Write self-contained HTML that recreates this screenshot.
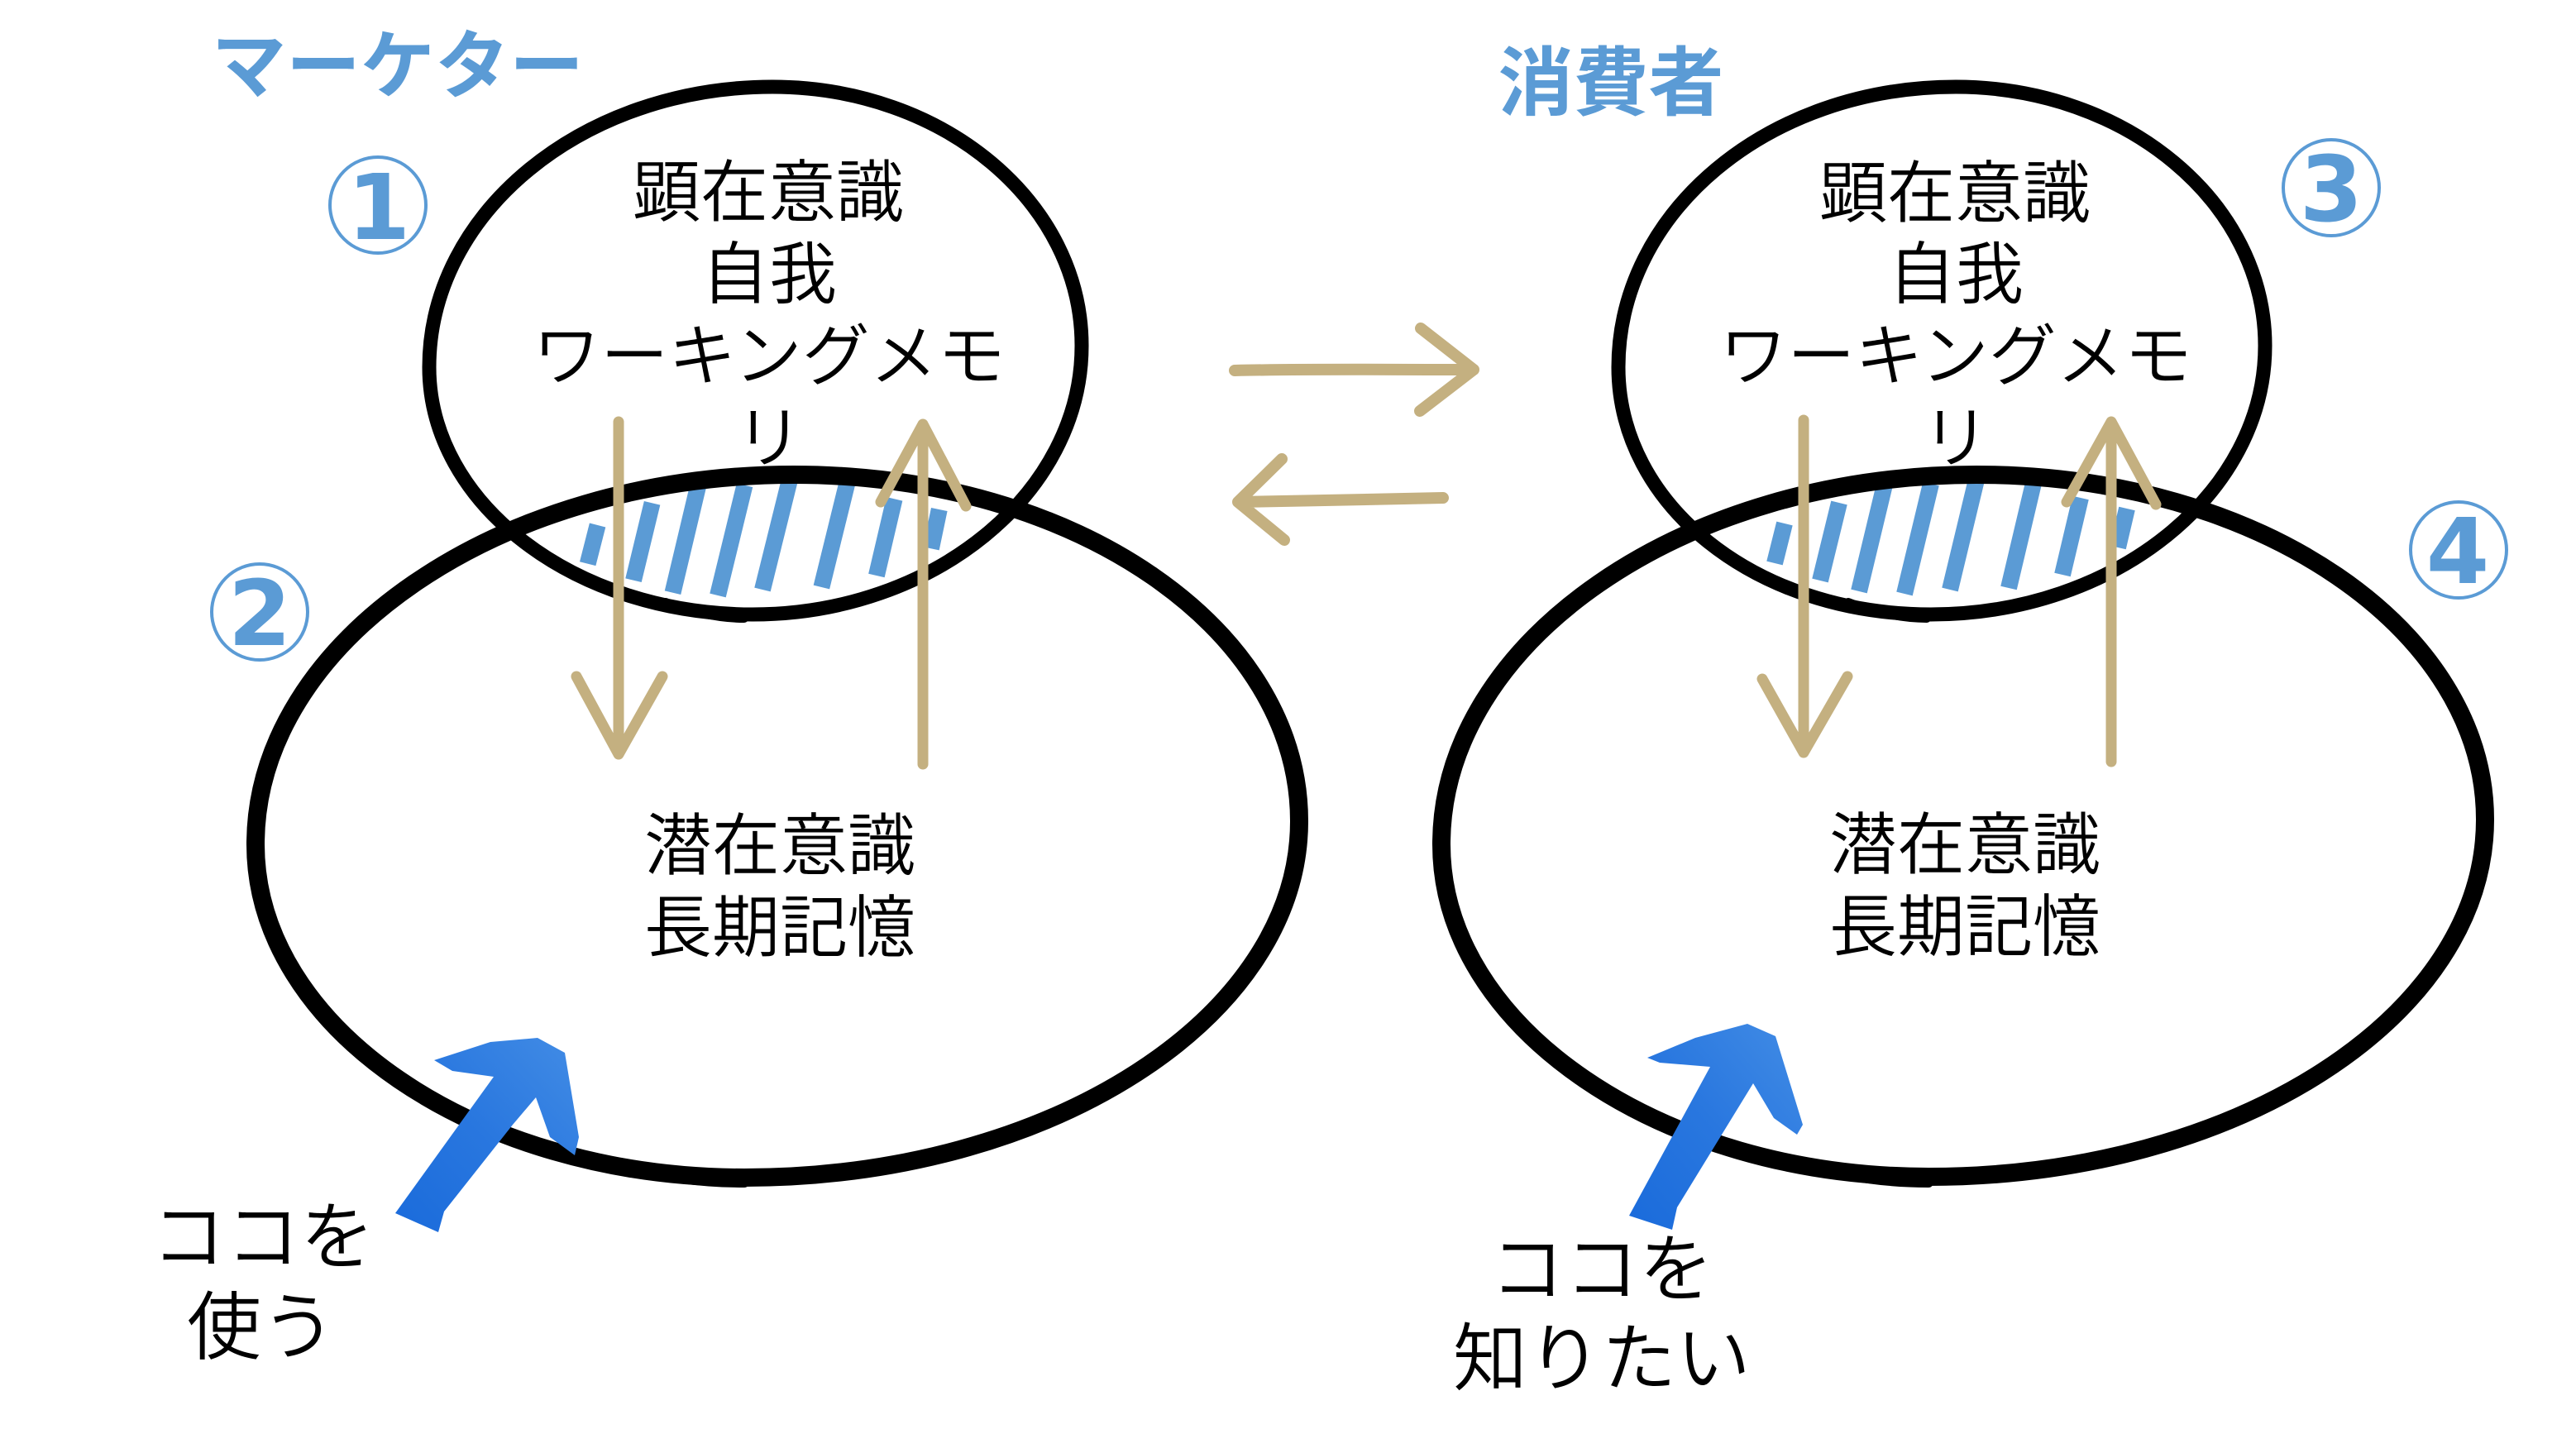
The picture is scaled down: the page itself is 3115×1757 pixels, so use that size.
<!DOCTYPE html>
<html>
<head>
<meta charset="utf-8">
<style>
  html, body { margin: 0; padding: 0; background: #ffffff; }
  body { width: 3115px; height: 1757px; overflow: hidden; }
  svg { display: block; }
  .body { font-family: "Liberation Sans", "Noto Sans CJK JP DemiLight", "Noto Sans CJK JP Light", "Noto Sans CJK JP", sans-serif; font-weight: 350; fill: #000; }
  .title { font-family: "Liberation Sans", "Noto Sans CJK JP", sans-serif; font-weight: 700; fill: #5b9bd5; }
  .num { font-family: "DejaVu Sans", "Liberation Sans", sans-serif; font-weight: 700; fill: #5b9bd5; }
</style>
</head>
<body>
<svg width="3115" height="1757" viewBox="0 0 3115 1757" xmlns="http://www.w3.org/2000/svg">
  <defs>
    <linearGradient id="bg1" x1="0" y1="1" x2="1" y2="0">
      <stop offset="0" stop-color="#1a6bdb"/>
      <stop offset="0.5" stop-color="#2977df"/>
      <stop offset="1" stop-color="#428ce5"/>
    </linearGradient>
  </defs>
  <rect x="0" y="0" width="3115" height="1757" fill="#ffffff"/>

  <!-- ===== Titles ===== -->
  <text class="title" x="481" y="111" font-size="90" text-anchor="middle">マーケター</text>
  <text class="title" x="1948" y="132" font-size="91" text-anchor="middle">消費者</text>

  <!-- ===== Circled numbers ===== -->
  <g fill="none" stroke="#5b9bd5" stroke-width="4">
    <circle cx="457" cy="248" r="58"/>
    <circle cx="314" cy="740" r="58"/>
    <circle cx="2819" cy="227" r="58"/>
    <circle cx="2973" cy="665" r="58"/>
  </g>
  <text class="num" x="458" y="289" font-size="110" text-anchor="middle">1</text>
  <text class="num" x="314" y="780" font-size="110" text-anchor="middle">2</text>
  <text class="num" x="2819" y="267" font-size="110" text-anchor="middle">3</text>
  <text class="num" x="2972" y="705" font-size="110" text-anchor="middle">4</text>

  <!-- ===== Blue striped lens (left) ===== -->
  <g stroke="#5b9bd5" stroke-width="20" stroke-linecap="butt">
    <line x1="722.6" y1="635" x2="710.7" y2="681.7"/>
    <line x1="788.6" y1="608.3" x2="766" y2="701.7"/>
    <line x1="844.4" y1="586.7" x2="813.5" y2="716.7"/>
    <line x1="900.5" y1="586.7" x2="868" y2="720"/>
    <line x1="955" y1="580" x2="922" y2="713"/>
    <line x1="1025" y1="581.7" x2="993.4" y2="710"/>
    <line x1="1081.6" y1="603.3" x2="1059.9" y2="696"/>
    <line x1="1135.8" y1="616" x2="1125.9" y2="663.3"/>
  </g>
  <!-- ===== Blue striped lens (right) ===== -->
  <g stroke="#5b9bd5" stroke-width="20" stroke-linecap="butt">
    <line x1="2158" y1="633" x2="2146" y2="681"/>
    <line x1="2224" y1="608" x2="2201" y2="702"/>
    <line x1="2279" y1="586" x2="2248" y2="715"/>
    <line x1="2335" y1="585" x2="2303" y2="718"/>
    <line x1="2390" y1="580" x2="2358" y2="713"/>
    <line x1="2460" y1="580" x2="2429" y2="711"/>
    <line x1="2516" y1="602" x2="2494" y2="695"/>
    <line x1="2572" y1="615" x2="2561" y2="662"/>
  </g>

  <!-- ===== Ellipses (left) ===== -->
  <g fill="none" stroke="#000" stroke-linejoin="round">
    <path stroke-width="17" d="M934,105 C1141,105 1308,245 1308,418 C1308,597 1128,743 910,743 C695,743 519,609 519,444 C519,257 705,105 934,105 Z"/>
    <path stroke-width="22" d="M960,574 C1303,574 1571,762 1571,993 C1571,1230 1270,1424 900,1424 C574,1424 309,1242 309,1021 C309,776 603,574 960,574 Z"/>
  </g>
  <path d="M805,728 C840,742 870,748 900,748" fill="none" stroke="#000" stroke-width="10" stroke-linecap="round"/>
  <path d="M760,1410 C800,1424 850,1430 900,1430" fill="none" stroke="#000" stroke-width="12" stroke-linecap="round"/>

  <!-- ===== Ellipses (right) ===== -->
  <g fill="none" stroke="#000" stroke-linejoin="round">
    <path stroke-width="17" d="M2365,105 C2571,105 2739,245 2739,418 C2739,597 2557,743 2335,743 C2121,743 1957,609 1957,444 C1957,257 2137,105 2365,105 Z"/>
    <path stroke-width="22" d="M2390,574 C2733,574 3005,762 3005,991 C3005,1229 2704,1423 2332,1423 C2008,1423 1743,1242 1743,1021 C1743,776 2035,574 2390,574 Z"/>
  </g>
  <path d="M2235,728 C2270,742 2300,748 2330,748" fill="none" stroke="#000" stroke-width="10" stroke-linecap="round"/>
  <path d="M2195,1410 C2235,1424 2285,1430 2332,1430" fill="none" stroke="#000" stroke-width="12" stroke-linecap="round"/>

  <!-- ===== Beige arrows ===== -->
  <g fill="none" stroke="#c4b080" stroke-linecap="round" stroke-linejoin="round">
    <path stroke-width="13" d="M748,510 L748,912 M697,818 L748,912 L801,818"/>
    <path stroke-width="13" d="M1116,924 L1116,513 M1065,607 L1116,513 L1168,612"/>
    <path stroke-width="13" d="M2181,508 L2181,910 M2131,821 L2181,910 L2234,818"/>
    <path stroke-width="13" d="M2553,921 L2553,510 M2499,607 L2553,510 L2607,610"/>
    <path stroke-width="14" d="M1493,448 C1580,446 1650,447 1782,447 M1718,397 L1782,447 L1717,497"/>
    <path stroke-width="14" d="M1745,602 C1660,603 1580,606 1497,607 M1550,555 L1497,607 L1553,653"/>
  </g>

  <!-- ===== Blue brush arrows ===== -->
  <polygon fill="url(#bg1)" points="478,1467 530,1490 537,1465 620,1360 648,1327 665,1375 695,1397 700,1375 683,1273 650,1255 593,1260 525,1282 547,1295 597,1302"/>
  <polygon fill="url(#bg1)" points="1970,1470 2022,1487 2028,1460 2120,1310 2145,1352 2173,1372 2180,1360 2147,1253 2113,1238 2050,1255 1992,1279 2007,1285 2068,1290"/>

  <!-- ===== Texts ===== -->
  <g class="body" font-size="82" text-anchor="middle">
    <text x="929" y="261">顕在意識</text>
    <text x="930" y="360">自我</text>
    <text x="930" y="459">ワーキングメモ</text>
    <text x="930" y="558">リ</text>

    <text x="2364" y="262">顕在意識</text>
    <text x="2365" y="360">自我</text>
    <text x="2365" y="459">ワーキングメモ</text>
    <text x="2365" y="558">リ</text>

    <text x="943" y="1051">潜在意識</text>
    <text x="943" y="1150">長期記憶</text>
    <text x="2376" y="1050">潜在意識</text>
    <text x="2376" y="1149">長期記憶</text>
  </g>

  <g class="body" font-size="90" text-anchor="middle">
    <text x="318" y="1527">ココを</text>
    <text x="316" y="1636">使う</text>
    <text x="1937" y="1566">ココを</text>
    <text x="1937" y="1674">知りたい</text>
  </g>
</svg>
</body>
</html>
